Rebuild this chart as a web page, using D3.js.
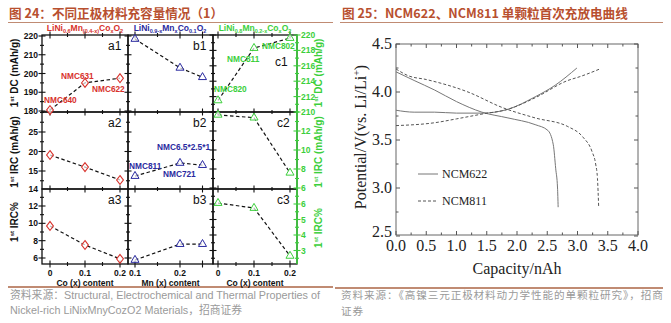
<!DOCTYPE html>
<html><head><meta charset="utf-8">
<script src="https://cdn.jsdelivr.net/npm/d3@7"></script>
<style>body{margin:0;background:#fff;}svg{display:block;}</style>
</head><body>
<svg id="c" width="671" height="323"></svg>
<script>
// ---------- DATA: left figure ----------
const coX = [0, 0.1, 0.2];
const mnX = [0.1, 0.2, 0.25];
const a1DC = [180.5, 195, 197.5];
const a2IRC = [19.1, 16.0, 12.7];
const a3IRCpct = [9.7, 7.5, 5.9];
const b1DC = [218.4, 203, 198];
const b2IRC = [13.7, 17.05, 16.5];
const b3IRCpct = [5.77, 7.6, 7.6];
const c1DC = [211.5, 218.3, 219.6];
const c2IRC = [13.7, 13.4, 7.6];
const c3IRCpct = [6.06, 5.74, 2.65];
const a1Labels = ["NMC640", "NMC631", "NMC622"];
const b2Labels = ["NMC811", "NMC721", "NMC6.5*2.5*1"];
const c1Labels = ["NMC820", "NMC811", "NMC802"];
const leftTicksRow1 = [180, 190, 200, 210, 220];
const leftTicksRow2 = [15, 20, 25];
const leftTicksRow3 = [6, 8, 10, 12, 14];
const rightTicksRow1 = [210, 212, 214, 216, 218, 220];
const rightTicksRow2 = [6, 8, 10, 12];
const rightTicksRow3 = [3, 4, 5, 6];
const coTicks = [0, 0.1, 0.2];
const mnTicks = [0.1, 0.2];
const panelNames = [["a1","b1","c1"],["a2","b2","c2"],["a3","b3","c3"]];

// ---------- DATA: right figure ----------
const cap622Charge = [0, 0.3, 0.64, 1.0, 1.42, 1.85, 2.3, 2.63, 2.99];
const v622Charge   = [3.81, 3.79, 3.79, 3.78, 3.78, 3.82, 3.95, 4.07, 4.25];
const cap622Dis = [0, 0.3, 0.64, 1.0, 1.42, 1.85, 2.3, 2.51, 2.6, 2.64, 2.67, 2.68];
const v622Dis   = [4.21, 4.12, 4.02, 3.9, 3.79, 3.73, 3.66, 3.6, 3.45, 3.2, 3.0, 2.8];
const cap811Charge = [0, 0.64, 1.0, 1.42, 1.85, 2.3, 2.84, 3.04, 3.37];
const v811Charge   = [3.65, 3.68, 3.72, 3.77, 3.82, 3.94, 4.12, 4.16, 4.24];
const cap811Dis = [0, 0.2, 0.5, 1.19, 1.75, 2.3, 2.84, 3.09, 3.24, 3.3, 3.33, 3.35];
const v811Dis   = [4.24, 4.17, 4.13, 4.0, 3.84, 3.73, 3.64, 3.53, 3.38, 3.25, 3.1, 2.8];
const capTicks = [0, 0.5, 1, 1.5, 2, 2.5, 3, 3.5, 4];
const vTicks = [2.5, 3.0, 3.5, 4.0, 4.5];

const svg = d3.select("#c");
const TITLE = "#b8502f", RULE = "#c08b73", SRC = "#9a9a9a";
const RED = "#d8322c", BLUE = "#2a2aa0", GREEN = "#3ccf3c";
const SANS = "Liberation Sans, Arial, sans-serif";
const CJK = "'Noto Sans CJK SC', sans-serif";
const SERIF = "Liberation Serif, 'Times New Roman', serif";

// ---------- titles / rules / sources ----------
function title(x, txt){
  svg.append("text").attr("x", x).attr("y", 18).attr("font-family", CJK)
    .attr("font-weight", "bold").attr("font-size", 12.6).attr("fill", TITLE).text(txt);
}
title(9, "图 24：不同正极材料充容量情况（1）");
title(342, "图 25：NCM622、NCM811 单颗粒首次充放电曲线");
svg.append("line").attr("x1", 8).attr("x2", 333).attr("y1", 22.5).attr("y2", 22.5).attr("stroke", RULE).attr("stroke-width", 1.2);
svg.append("line").attr("x1", 340).attr("x2", 663).attr("y1", 22.5).attr("y2", 22.5).attr("stroke", RULE).attr("stroke-width", 1.2);
svg.append("line").attr("x1", 8).attr("x2", 333).attr("y1", 287).attr("y2", 287).attr("stroke", RULE).attr("stroke-width", 2);
svg.append("line").attr("x1", 335).attr("x2", 663).attr("y1", 288).attr("y2", 288).attr("stroke", RULE).attr("stroke-width", 2);
const s1 = svg.append("text").attr("font-size", 10.8).attr("fill", SRC).attr("font-family", SANS);
s1.append("tspan").attr("x", 10).attr("y", 299).attr("font-family", CJK).text("资料来源：");
s1.append("tspan").text("Structural, Electrochemical and Thermal Properties of");
const s2 = svg.append("text").attr("font-size", 10.8).attr("fill", SRC).attr("font-family", SANS);
s2.append("tspan").attr("x", 10).attr("y", 314).text("Nickel-rich LiNixMnyCozO2 Materials");
s2.append("tspan").attr("font-family", CJK).text("，招商证券");
svg.append("text").attr("x", 341).attr("y", 299).attr("font-size", 10.6).attr("letter-spacing", 0.9).attr("fill", SRC).attr("font-family", CJK)
  .text("资料来源：《高镍三元正极材料动力学性能的单颗粒研究》，招商");
svg.append("text").attr("x", 341).attr("y", 315).attr("font-size", 10.6).attr("letter-spacing", 0.9).attr("fill", SRC).attr("font-family", CJK).text("证券");

// ---------- LEFT FIGURE ----------
const L = svg.append("g");
const colX = [[42,128],[128,213],[213,297]];
const rowY = [[35,112],[112,189],[189,264]];
const xs = [
  d3.scaleLinear().domain([0,0.2]).range([50,120]),
  d3.scaleLinear().domain([0.1,0.2]).range([135,180]),
  d3.scaleLinear().domain([0,0.2]).range([218,290])
];
const yL = [
  d3.scaleLinear().domain([180,220]).range([111,36]),
  d3.scaleLinear().domain([10,25]).range([190.5,132]),
  d3.scaleLinear().domain([6,12]).range([258,206])
];
const yR = [
  d3.scaleLinear().domain([210,220]).range([112,35]),
  d3.scaleLinear().domain([6,12]).range([188,131]),
  d3.scaleLinear().domain([3,6]).range([250.5,204])
];
const leftTicks = [leftTicksRow1, leftTicksRow2, leftTicksRow3];
const rightTicks = [rightTicksRow1, rightTicksRow2, rightTicksRow3];
const leftMinorStep = [5, 2.5, 1];
const rightMinorStep = [1, 1, 0.5];

for (let r=0;r<3;r++) for (let c=0;c<3;c++){
  L.append("rect").attr("x", colX[c][0]).attr("y", rowY[r][0])
    .attr("width", colX[c][1]-colX[c][0]).attr("height", rowY[r][1]-rowY[r][0])
    .attr("fill","none").attr("stroke", "#111").attr("stroke-width",1.3);
}
L.append("line").attr("x1",297).attr("x2",297).attr("y1",35).attr("y2",264).attr("stroke",GREEN).attr("stroke-width",1.6);

function vticks(x, scale, step, y0, y1, color, major){
  const lo = scale.invert(y1), hi = scale.invert(y0);
  for (let v = Math.ceil(lo/step)*step; v <= hi+1e-9; v += step){
    const y = scale(v);
    if (y < y0-0.5 || y > y1+0.5) continue;
    const isMajor = major.some(m => Math.abs(m-v) < 1e-6);
    const len = isMajor ? 3.5 : 2;
    L.append("line").attr("x1", x-len).attr("x2", x+len).attr("y1", y).attr("y2", y)
      .attr("stroke", color).attr("stroke-width", 1.1);
  }
}
for (let r=0;r<3;r++){
  vticks(42, yL[r], leftMinorStep[r], rowY[r][0], rowY[r][1], "#111", leftTicks[r]);
  vticks(128, yL[r], leftMinorStep[r], rowY[r][0], rowY[r][1], "#111", leftTicks[r]);
  vticks(213, yR[r], rightMinorStep[r], rowY[r][0], rowY[r][1], "#111", rightTicks[r]);
  vticks(297, yR[r], rightMinorStep[r], rowY[r][0], rowY[r][1], GREEN, rightTicks[r]);
}
function hticks(c, y, step, major){
  const s = xs[c];
  const lo = s.invert(colX[c][0]), hi = s.invert(colX[c][1]);
  for (let v = Math.ceil(lo/step - 1e-9)*step; v <= hi+1e-9; v += step){
    const x = s(v);
    const isMajor = major.some(m => Math.abs(m-v) < 1e-6);
    const len = isMajor ? 3.5 : 2;
    L.append("line").attr("x1", x).attr("x2", x).attr("y1", y-len).attr("y2", y+len)
      .attr("stroke","#111").attr("stroke-width",1.1);
  }
}
const xMaj = [coTicks, mnTicks.concat([0.25]), coTicks];
for (let c=0;c<3;c++) for (const y of [35,112,189,264]) hticks(c, y, 0.05, xMaj[c]);

for (let r=0;r<3;r++){
  L.selectAll(null).data(leftTicks[r]).enter().append("text")
    .attr("x", 38).attr("y", d => yL[r](d)+3).attr("text-anchor","end")
    .attr("font-family", SANS).attr("font-weight","bold").attr("font-size", 8.5).attr("fill","#111").text(d => d);
  L.selectAll(null).data(rightTicks[r]).enter().append("text")
    .attr("x", 301).attr("y", d => yR[r](d)+3).attr("text-anchor","start")
    .attr("font-family", SANS).attr("font-weight","bold").attr("font-size", 8.5).attr("fill",GREEN).text(d => d);
}
const xTickSets = [coTicks, mnTicks, coTicks];
for (let c=0;c<3;c++){
  L.selectAll(null).data(xTickSets[c]).enter().append("text")
    .attr("x", d => xs[c](d)).attr("y", 276).attr("text-anchor","middle")
    .attr("font-family", SANS).attr("font-weight","bold").attr("font-size", 8.5).attr("fill","#111").text(d => d);
}
const xTitles = ["Co (x) content", "Mn (x) content", "Co (x) content"];
xTitles.forEach((t,c) => L.append("text").attr("x", (colX[c][0]+colX[c][1])/2).attr("y", 285.5)
  .attr("text-anchor","middle").attr("font-family", SANS).attr("font-weight","bold").attr("font-size", 8.5).attr("fill","#111").text(t));

function ytitle(x, yc, main, color){
  const t = L.append("text").attr("transform", `translate(${x},${yc}) rotate(-90)`).attr("text-anchor","middle")
    .attr("font-family", SANS).attr("font-weight","bold").attr("font-size", 10).attr("fill", color);
  t.append("tspan").text("1");
  t.append("tspan").attr("font-size", 6).attr("dy", -4).text("st");
  t.append("tspan").attr("dy", 4).text(" " + main);
}
ytitle(18, 73, "DC (mAh/g)", "#111");
ytitle(18, 152, "IRC (mAh/g)", "#111");
ytitle(18, 222, "IRC%", "#111");
ytitle(322, 73, "DC (mAh/g)", GREEN);
ytitle(322, 152, "IRC (mAh/g)", GREEN);
ytitle(322, 228, "IRC%", GREEN);

function header(xc, parts, color){
  const t = L.append("text").attr("x", xc).attr("y", 31).attr("text-anchor","middle")
    .attr("font-family", SANS).attr("font-weight","bold").attr("font-size", 8.5).attr("fill", color);
  parts.forEach(p => {
    const s = t.append("tspan").text(p[0]);
    if (p[1]) s.attr("font-size", 5.5).attr("dy", 2); else s.attr("dy", p[2]||0);
  });
}
header(85, [["LiNi"],["0.6",1],["Mn",0,-2],["(0.4-x)",1],["Co",0,-2],["x",1],["O",0,-2],["2",1]], RED);
header(170, [["LiNi"],["0.9-x",1],["Mn",0,-2],["x",1],["Co",0,-2],["0.1",1],["O",0,-2],["2",1]], BLUE);
header(255, [["LiNi"],["0.8",1],["Mn",0,-2],["0.2-x",1],["Co",0,-2],["x",1],["O",0,-2],["2",1]], GREEN);

const nameX = [[108,108,108],[193,193,193],[275,277,277]];
const nameY = [[50,127,204],[50,127,204],[66,127,204]];
for (let r=0;r<3;r++) for (let c=0;c<3;c++)
  L.append("text").attr("x", nameX[c][r]).attr("y", nameY[c][r]).attr("font-family", SANS).attr("font-size", 12).attr("fill","#111").text(panelNames[r][c]);

const series = [
  {c:0, r:0, x:coX, y:a1DC, col:RED, m:"d"},
  {c:0, r:1, x:coX, y:a2IRC, col:RED, m:"d"},
  {c:0, r:2, x:coX, y:a3IRCpct, col:RED, m:"d"},
  {c:1, r:0, x:mnX, y:b1DC, col:BLUE, m:"t"},
  {c:1, r:1, x:mnX, y:b2IRC, col:BLUE, m:"t"},
  {c:1, r:2, x:mnX, y:b3IRCpct, col:BLUE, m:"t"},
  {c:2, r:0, x:coX, y:c1DC, col:GREEN, m:"t", right:true},
  {c:2, r:1, x:coX, y:c2IRC, col:GREEN, m:"t", right:true},
  {c:2, r:2, x:coX, y:c3IRCpct, col:GREEN, m:"t", right:true}
];
series.forEach(s => {
  const ys = s.right ? yR[s.r] : yL[s.r];
  const pts = s.x.map((v,i) => [xs[s.c](v), ys(s.y[i])]);
  L.append("path").attr("d", d3.line()(pts)).attr("fill","none").attr("stroke","#111")
    .attr("stroke-width",1.2).attr("stroke-dasharray","3.5,2.5");
  pts.forEach(p => {
    const sym = d3.symbol().type(s.m === "d" ? d3.symbolDiamond : d3.symbolTriangle).size(28);
    L.append("path").attr("d", sym()).attr("transform", `translate(${p[0]},${p[1]})` + (s.m==="d" ? " scale(1.2,0.9)" : ""))
      .attr("fill","#fff").attr("fill-opacity",0.7).attr("stroke", s.col).attr("stroke-width",1);
  });
});

function ann(x, y, txt, color){
  L.append("text").attr("x", x).attr("y", y).attr("font-family", SANS).attr("font-weight","bold")
    .attr("font-size", 8.3).attr("fill", color).text(txt);
}
ann(44, 103, a1Labels[0], RED);
ann(61, 79, a1Labels[1], RED);
ann(92, 92, a1Labels[2], RED);
ann(129, 169, b2Labels[0], BLUE);
ann(163, 177, b2Labels[1], BLUE);
ann(157, 150, b2Labels[2], BLUE);
ann(214, 92, c1Labels[0], GREEN);
ann(227, 62, c1Labels[1], GREEN);
ann(262, 49, c1Labels[2], GREEN);

// ---------- RIGHT FIGURE ----------
const R = svg.append("g");
const x2 = d3.scaleLinear().domain([0,4]).range([396,638]);
const y2 = d3.scaleLinear().domain([2.5,4.5]).range([236,44]);
R.append("rect").attr("x",396).attr("y",44).attr("width",242).attr("height",191)
  .attr("fill","none").attr("stroke","#666").attr("stroke-width",1);
d3.range(0, 4.001, 0.25).forEach(v => {
  const major = Math.abs(v*2 - Math.round(v*2)) < 1e-6;
  const len = major ? 4 : 2.5;
  R.append("line").attr("x1",x2(v)).attr("x2",x2(v)).attr("y1",235).attr("y2",235-len).attr("stroke","#555");
  R.append("line").attr("x1",x2(v)).attr("x2",x2(v)).attr("y1",44).attr("y2",44+len).attr("stroke","#555");
});
d3.range(2.5, 4.501, 0.25).forEach(v => {
  const major = Math.abs(v*2 - Math.round(v*2)) < 1e-6;
  const len = major ? 4 : 2.5;
  R.append("line").attr("x1",396).attr("x2",396+len).attr("y1",y2(v)).attr("y2",y2(v)).attr("stroke","#555");
  R.append("line").attr("x1",638).attr("x2",638-len).attr("y1",y2(v)).attr("y2",y2(v)).attr("stroke","#555");
});
R.selectAll(null).data(capTicks).enter().append("text").attr("x", d => x2(d)).attr("y", 251)
  .attr("text-anchor","middle").attr("font-family",SERIF).attr("font-size",16).attr("fill","#222").text(d => d.toFixed(1));
R.selectAll(null).data(vTicks).enter().append("text").attr("x", 392).attr("y", d => y2(d) + (d === 2.5 ? 1 : 5))
  .attr("text-anchor","end").attr("font-family",SERIF).attr("font-size",16).attr("fill","#222").text(d => d.toFixed(1));
R.append("text").attr("x",517).attr("y",274).attr("text-anchor","middle").attr("font-family",SERIF)
  .attr("font-size",16).attr("fill","#222").text("Capacity/nAh");
const yt = R.append("text").attr("transform","translate(366,137) rotate(-90)").attr("text-anchor","middle")
  .attr("font-family",SERIF).attr("font-size",16).attr("fill","#222");
yt.append("tspan").text("Potential/V(vs. Li/Li");
yt.append("tspan").attr("font-size",10).attr("dy",-6).text("+");
yt.append("tspan").attr("dy",6).text(")");

const ln = d3.line().x(d => x2(d[0])).y(d => y2(d[1])).curve(d3.curveMonotoneX);
function curve(cap, v, dashed){
  R.append("path").attr("d", ln(cap.map((c,i)=>[c, v[i]]))).attr("fill","none")
    .attr("stroke", dashed ? "#555" : "#777").attr("stroke-width", 1)
    .attr("stroke-dasharray", dashed ? "3,2" : null);
}
curve(cap622Charge, v622Charge, false);
curve(cap622Dis, v622Dis, false);
curve(cap811Charge, v811Charge, true);
curve(cap811Dis, v811Dis, true);

R.append("line").attr("x1",418).attr("x2",438).attr("y1",174).attr("y2",174).attr("stroke","#777");
R.append("text").attr("x",442).attr("y",178).attr("font-family",SERIF).attr("font-size",12).attr("fill","#222").text("NCM622");
R.append("line").attr("x1",418).attr("x2",438).attr("y1",201).attr("y2",201).attr("stroke","#555").attr("stroke-dasharray","3,2");
R.append("text").attr("x",442).attr("y",205).attr("font-family",SERIF).attr("font-size",12).attr("fill","#222").text("NCM811");
</script>
</body></html>
